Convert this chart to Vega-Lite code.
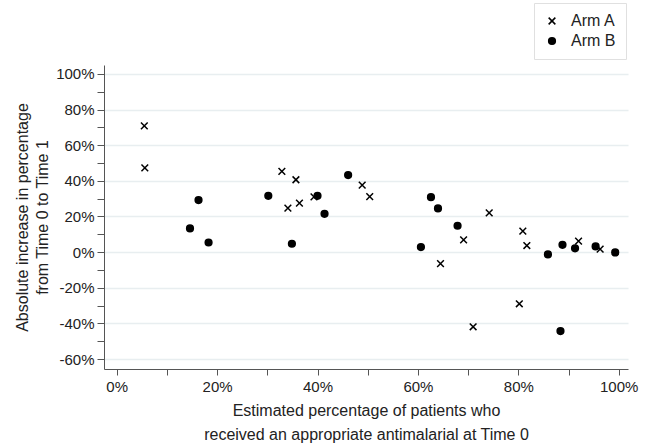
{
  "$schema": "https://vega.github.io/schema/vega-lite/v6.json",
  "width": 524,
  "height": 304,
  "autosize": {"type": "none"},
  "padding": {"left": 104, "top": 65, "right": 21, "bottom": 77},
  "background": "white",
  "config": {
    "font": "Liberation Sans",
    "view": {"stroke": null}
  },
  "data": {
    "values": [
      {"arm": "Arm A", "t0": 5.5, "inc": 70.8},
      {"arm": "Arm A", "t0": 5.6, "inc": 47.3},
      {"arm": "Arm A", "t0": 32.9, "inc": 45.3},
      {"arm": "Arm A", "t0": 35.7, "inc": 40.6},
      {"arm": "Arm A", "t0": 34.1, "inc": 24.7},
      {"arm": "Arm A", "t0": 36.4, "inc": 27.5},
      {"arm": "Arm A", "t0": 39.3, "inc": 31.0},
      {"arm": "Arm A", "t0": 48.9, "inc": 37.6},
      {"arm": "Arm A", "t0": 50.4, "inc": 31.1},
      {"arm": "Arm A", "t0": 69.1, "inc": 6.9},
      {"arm": "Arm A", "t0": 64.5, "inc": -6.5},
      {"arm": "Arm A", "t0": 74.2, "inc": 22.0},
      {"arm": "Arm A", "t0": 80.9, "inc": 11.8},
      {"arm": "Arm A", "t0": 81.7, "inc": 3.7},
      {"arm": "Arm A", "t0": 92.0, "inc": 6.2},
      {"arm": "Arm A", "t0": 96.3, "inc": 1.7},
      {"arm": "Arm A", "t0": 80.2, "inc": -29.0},
      {"arm": "Arm A", "t0": 71.0, "inc": -41.9},
      {"arm": "Arm B", "t0": 16.3, "inc": 29.2},
      {"arm": "Arm B", "t0": 14.6, "inc": 13.3},
      {"arm": "Arm B", "t0": 18.3, "inc": 5.4},
      {"arm": "Arm B", "t0": 30.2, "inc": 31.6},
      {"arm": "Arm B", "t0": 40.0, "inc": 31.6},
      {"arm": "Arm B", "t0": 41.4, "inc": 21.5},
      {"arm": "Arm B", "t0": 34.9, "inc": 4.7},
      {"arm": "Arm B", "t0": 46.1, "inc": 43.2},
      {"arm": "Arm B", "t0": 62.6, "inc": 30.8},
      {"arm": "Arm B", "t0": 64.0, "inc": 24.5},
      {"arm": "Arm B", "t0": 67.9, "inc": 14.8},
      {"arm": "Arm B", "t0": 60.6, "inc": 2.8},
      {"arm": "Arm B", "t0": 85.9, "inc": -1.3},
      {"arm": "Arm B", "t0": 88.8, "inc": 4.1},
      {"arm": "Arm B", "t0": 91.3, "inc": 2.1},
      {"arm": "Arm B", "t0": 95.4, "inc": 3.2},
      {"arm": "Arm B", "t0": 99.3, "inc": -0.2},
      {"arm": "Arm B", "t0": 88.4, "inc": -44.3}
    ]
  },
  "mark": {"type": "point", "stroke": "black", "strokeWidth": 1.5, "opacity": 1, "size": 45},
  "encoding": {
    "x": {
      "field": "t0",
      "type": "quantitative",
      "scale": {"domain": [-2.53, 101.85], "nice": false, "zero": false},
      "axis": {
        "values": [0, 10, 20, 30, 40, 50, 60, 70, 80, 90, 100],
        "labelExpr": "datum.value % 20 === 0 ? datum.value + '%' : ''",
        "labelOverlap": false,
        "labelFlush": false,
        "grid": false,
        "tickSize": 6,
        "tickColor": "#555",
        "domainColor": "#555",
        "labelFontSize": 15,
        "labelColor": "#222",
        "labelPadding": 4,
        "title": ["Estimated percentage of patients who", "received an appropriate antimalarial at Time 0"],
        "titleFontSize": 16,
        "titleFontWeight": "normal",
        "titleColor": "#222",
        "titlePadding": 8,
        "titleLineHeight": 24
      }
    },
    "y": {
      "field": "inc",
      "type": "quantitative",
      "scale": {"domain": [-65.6, 105], "nice": false, "zero": false},
      "axis": {
        "values": [-60, -50, -40, -30, -20, -10, 0, 10, 20, 30, 40, 50, 60, 70, 80, 90, 100],
        "labelExpr": "datum.value % 20 === 0 ? datum.value + '%' : ''",
        "labelOverlap": false,
        "labelFlush": false,
        "grid": true,
        "gridColor": "#e8eef0",
        "gridWidth": 1.5,
        "gridOpacity": {"condition": {"test": "datum.value % 20 === 0", "value": 1}, "value": 0},
        "tickSize": 7,
        "tickColor": "#555",
        "domainColor": "#555",
        "labelFontSize": 15,
        "labelColor": "#222",
        "labelPadding": 3,
        "title": ["Absolute increase in percentage", "from Time 0 to Time 1"],
        "titleFontSize": 16,
        "titleFontWeight": "normal",
        "titleColor": "#222",
        "titlePadding": 5,
        "titleLineHeight": 20
      }
    },
    "shape": {
      "field": "arm",
      "type": "nominal",
      "scale": {"domain": ["Arm A", "Arm B"], "range": ["M-1,-1L1,1M-1,1L1,-1", "circle"]},
      "legend": {
        "title": null,
        "orient": "none",
        "legendX": 430,
        "legendY": -62,
        "strokeColor": "#e0e0e0",
        "padding": 10,
        "labelFontSize": 16,
        "labelColor": "#222",
        "labelOffset": 11,
        "rowPadding": 4,
        "symbolSize": 45,
        "encode": {"symbols": {"update": {"stroke": {"value": "black"}, "strokeWidth": {"value": 1.5}}}}
      }
    },
    "fill": {
      "field": "arm",
      "type": "nominal",
      "scale": {"domain": ["Arm A", "Arm B"], "range": ["transparent", "black"]},
      "legend": {
        "title": null,
        "orient": "none",
        "legendX": 430,
        "legendY": -62,
        "strokeColor": "#e0e0e0",
        "padding": 10,
        "labelFontSize": 16,
        "labelColor": "#222",
        "labelOffset": 11,
        "rowPadding": 4,
        "symbolSize": 45,
        "encode": {"symbols": {"update": {"stroke": {"value": "black"}, "strokeWidth": {"value": 1.5}}}}
      }
    }
  }
}
